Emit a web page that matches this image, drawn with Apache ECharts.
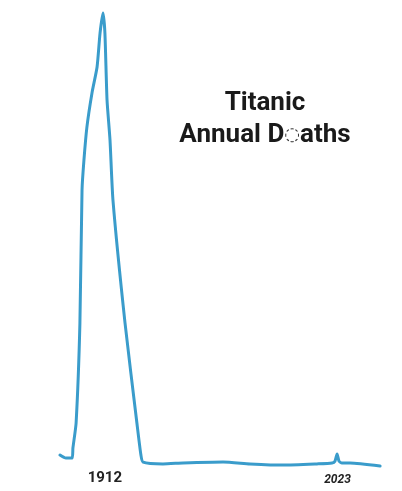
<!DOCTYPE html>
<html>
<head>
<meta charset="utf-8">
<script src="https://cdn.jsdelivr.net/npm/echarts@6/dist/echarts.min.js"></script>
<style>
  html, body { margin: 0; padding: 0; background: #fff; }
  #chart { width: 402px; height: 491px; }
</style>
</head>
<body>
<div id="chart"></div>
<script>
// hand drawn curve (year, deaths)
var years = [1892.0, 1894.8, 1897.7, 1898.1, 1899.6, 1901.4, 1902.4, 1903.3, 1904.7, 1907.1, 1909.5, 1910.9, 1912.3,
  1913.2, 1914.2, 1915.6, 1917.0, 1922.7, 1928.3, 1930.2, 1931.2, 1940.6, 1950.1, 1969.0, 1981.7, 1997.3, 2013.3,
  2020.4, 2021.8, 2022.8, 2023.7, 2025.1, 2028.9, 2043.1];
var deaths = [49, 39, 39, 72, 154, 481, 917, 1015, 1123, 1235, 1320, 1431, 1497,
  1431, 1212, 1081, 884, 481, 154, 49, 26, 20, 23, 26, 20, 16, 20,
  23, 29, 52, 29, 23, 23, 13];
var tickYears = [1912, 2023];

var chart = echarts.init(document.getElementById('chart'));

var points = [];
for (var i = 0; i < years.length; i++) {
  points.push([years[i], deaths[i]]);
}

var option = {
  backgroundColor: '#fff',
  animation: false,
  title: {
    text: 'Titanic\nAnnual D{i|◌}aths',
    left: 260,
    top: 82,
    textAlign: 'center',
    textStyle: {
      fontFamily: 'Roboto',
      fontWeight: 'bold',
      fontSize: 26,
      lineHeight: 32,
      color: '#1a1a1a',
      rich: {
        i: { fontFamily: 'DejaVu Sans', fontWeight: 'bold', fontSize: 18, color: '#333', lineHeight: 32 }
      }
    }
  },
  grid: { left: 60, right: 20, top: 12, bottom: 21 },
  xAxis: {
    type: 'value',
    min: 1892,
    max: 2044,
    axisLine: { show: false },
    axisTick: { show: false },
    splitLine: { show: false },
    axisLabel: {
      customValues: tickYears,
      margin: 1,
      formatter: function (v) {
        return v === 2023 ? '{s|' + v + '}' : '{b|' + v + '}';
      },
      rich: {
        b: { fontFamily: 'Roboto', fontWeight: 'bold', fontSize: 15, color: '#222', padding: [0, 0, 0, 5] },
        s: { fontFamily: 'Roboto', fontWeight: 'bold', fontStyle: 'italic', fontSize: 12, color: '#222', padding: [3, 0, 0, 0] }
      }
    }
  },
  yAxis: {
    type: 'value',
    min: 0,
    max: 1500,
    show: false
  },
  series: [{
    type: 'line',
    data: points,
    smooth: 0.2,
    symbol: 'none',
    lineStyle: { color: '#3a9ccb', width: 3, cap: 'round', join: 'round' }
  }]
};
chart.setOption(option);
</script>
</body>
</html>
